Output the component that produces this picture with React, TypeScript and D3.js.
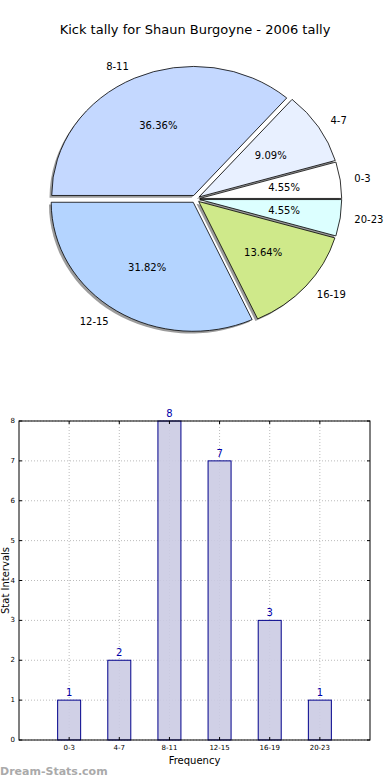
import * as d3 from "d3";

const categories = ["0-3", "4-7", "8-11", "12-15", "16-19", "20-23"];
const counts = [1, 2, 8, 7, 3, 1];
const sliceColors = ["#ffffff", "#e8f0ff", "#c4d8ff", "#b4d4ff", "#cfe98a", "#dcffff"];
const yTicks = [0, 1, 2, 3, 4, 5, 6, 7, 8];

const W = 390;
const H = 780;
const FONT = "DejaVu Sans, sans-serif";

const App = () => {
  const total = d3.sum(counts);

  // pie: counter-clockwise from 3 o'clock, squashed into an ellipse
  const cx = 195.5;
  const cy = 199;
  const rx = 142;
  const ry = 129;
  const explode = 0.03;

  const fracs = counts.map(c => c / total);
  const starts = fracs.map((_, i) => d3.sum(fracs.slice(0, i)) * 2 * Math.PI);
  const slices = fracs.map((f, i) => {
    const t1 = starts[i];
    const t2 = t1 + f * 2 * Math.PI;
    const mid = (t1 + t2) / 2;
    return {
      i, t1, t2, mid,
      dx: explode * rx * Math.cos(mid),
      dy: -explode * ry * Math.sin(mid),
    };
  });
  const arc = d3.arc<any>().innerRadius(0).outerRadius(1);
  const arcPath = (s: any) => arc({ startAngle: Math.PI / 2 - s.t2, endAngle: Math.PI / 2 - s.t1 }) as string;

  // bar chart
  const m = { left: 19, right: 370, top: 421, bottom: 740 };
  const x = d3.scaleLinear().domain([0, categories.length + 1]).range([m.left, m.right]);
  const y = d3.scaleLinear().domain([0, 8]).range([m.bottom, m.top]);
  const barW = 23;

  return (
    <svg width={W} height={H} style={{ position: "absolute", left: 0, top: 0, background: "#fff" }} fontFamily={FONT}>
      <text x={195} y={34} textAnchor="middle" fontSize={13}>Kick tally for Shaun Burgoyne - 2006 tally</text>

      {slices.map(s => (
        <path key={"sh" + s.i} d={arcPath(s)}
          transform={`translate(${cx + s.dx - 2.2},${cy + s.dy + 2.2}) scale(${rx},${ry})`}
          fill="#5a5a5a" fillOpacity={0.6} />
      ))}
      {slices.map(s => (
        <path key={"sl" + s.i} d={arcPath(s)}
          transform={`translate(${cx + s.dx},${cy + s.dy}) scale(${rx},${ry})`}
          fill={sliceColors[s.i]} stroke="#000" strokeWidth={0.8} vectorEffect="non-scaling-stroke" />
      ))}
      {slices.map(s => (
        <text key={"pc" + s.i} x={cx + s.dx + 0.6 * rx * Math.cos(s.mid)} y={cy + s.dy - 0.6 * ry * Math.sin(s.mid)}
          textAnchor="middle" dominantBaseline="central" fontSize={10}>
          {(fracs[s.i] * 100).toFixed(2)}%
        </text>
      ))}
      {slices.map(s => {
        const c = Math.cos(s.mid);
        return (
          <text key={"lb" + s.i} x={cx + s.dx + 1.1 * rx * c} y={cy + s.dy - 1.1 * ry * Math.sin(s.mid)}
            textAnchor={c > 0 ? "start" : "end"} dominantBaseline="central" fontSize={10}>
            {categories[s.i]}
          </text>
        );
      })}

      {/* grid */}
      {yTicks.map(t => (
        <line key={"gy" + t} x1={m.left} x2={m.right} y1={y(t)} y2={y(t)} stroke="#bbb" strokeWidth={1} strokeDasharray="1,2" />
      ))}
      {categories.map((c, i) => (
        <line key={"gx" + c} x1={x(i + 1)} x2={x(i + 1)} y1={m.top} y2={m.bottom} stroke="#bbb" strokeWidth={1} strokeDasharray="1,2" />
      ))}

      {counts.map((v, i) => (
        <g key={"b" + i}>
          <rect x={x(i + 1) - barW / 2} y={y(v)} width={barW} height={y(0) - y(v)}
            fill="#cbcbe3" fillOpacity={0.9} stroke="#00008b" strokeWidth={1} />
          <text x={x(i + 1)} y={y(v) - 4} textAnchor="middle" fontSize={10} fill="#0000aa">{v}</text>
        </g>
      ))}

      <rect x={m.left} y={m.top} width={m.right - m.left} height={m.bottom - m.top} fill="none" stroke="#000" strokeWidth={1} />

      {yTicks.map(t => (
        <g key={"ty" + t}>
          <line x1={m.left} x2={m.left + 3} y1={y(t)} y2={y(t)} stroke="#000" />
          <line x1={m.right - 3} x2={m.right} y1={y(t)} y2={y(t)} stroke="#000" />
          <text x={m.left - 4} y={y(t)} textAnchor="end" dominantBaseline="central" fontSize={7}>{t}</text>
        </g>
      ))}
      {categories.map((c, i) => (
        <g key={"tx" + c}>
          <line x1={x(i + 1)} x2={x(i + 1)} y1={m.bottom - 3} y2={m.bottom} stroke="#000" />
          <line x1={x(i + 1)} x2={x(i + 1)} y1={m.top} y2={m.top + 3} stroke="#000" />
          <text x={x(i + 1)} y={m.bottom + 10} textAnchor="middle" fontSize={7}>{c}</text>
        </g>
      ))}

      <text x={(m.left + m.right) / 2} y={764} textAnchor="middle" fontSize={10}>Frequency</text>
      <text transform={`translate(9,${(m.top + m.bottom) / 2}) rotate(-90)`} textAnchor="middle" fontSize={10}>Stat Intervals</text>

      <text x={0} y={775} fontSize={11} fontWeight="bold" fill="#aaa">Dream-Stats.com</text>
    </svg>
  );
};

export default App;
